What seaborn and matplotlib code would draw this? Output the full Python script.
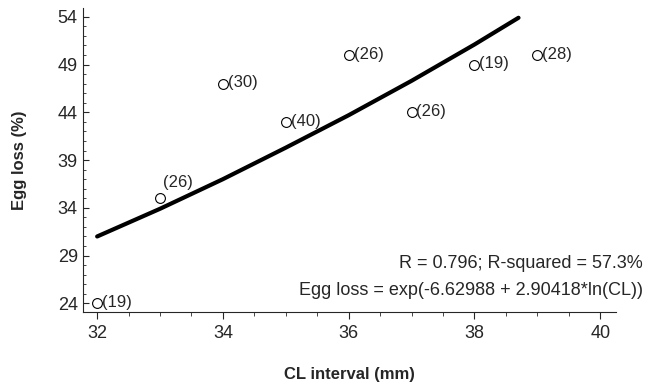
import matplotlib
matplotlib.use("Agg")
import matplotlib.pyplot as plt
from matplotlib.ticker import MultipleLocator
import seaborn as sns
import pandas as pd

# observed points (CL interval, egg loss %, sample size)
cl = [32, 33, 34, 35, 36, 37, 38, 39]
egg_loss = [24, 35, 47, 43, 50, 44, 49, 50]
n_labels = ["(19)", "(26)", "(30)", "(40)", "(26)", "(26)", "(19)", "(28)"]

# fitted curve
fit_cl = [32, 33, 34, 35, 36, 37, 38, 38.7]
fit_loss = [31.0, 33.9, 37.0, 40.3, 43.7, 47.3, 51.1, 53.9]

stats_text = "R = 0.796; R-squared = 57.3%"
eq_text = "Egg loss = exp(-6.62988 + 2.90418*ln(CL))"

sns.set_style("ticks")
plt.rcParams["font.family"] = ["Liberation Sans", "DejaVu Sans"]

pts = pd.DataFrame({"cl": cl, "loss": egg_loss, "n": n_labels})
fit = pd.DataFrame({"cl": fit_cl, "loss": fit_loss})

fig, ax = plt.subplots(figsize=(6.56, 3.87), dpi=100)
fig.subplots_adjust(left=0.127, right=0.939, top=0.98, bottom=0.193)

sns.lineplot(data=fit, x="cl", y="loss", color="black", linewidth=3, ax=ax)
sns.scatterplot(data=pts, x="cl", y="loss", marker="o", s=50,
                facecolor="white", edgecolor="black", linewidth=0.8, ax=ax, zorder=3)

for i, row in pts.iterrows():
    # the label at CL 33 sits above the curve in the original
    off = (2, 11) if i == 1 else (3.5, 0.5)
    ax.annotate(row["n"], (row["cl"], row["loss"]), xytext=off,
                textcoords="offset points", va="center", ha="left", fontsize=12)

ax.set_xlim(31.78, 40.25)
ax.set_ylim(23.06, 54.95)
ax.xaxis.set_major_locator(MultipleLocator(2))
ax.xaxis.set_minor_locator(MultipleLocator(0.5))
ax.set_yticks([24, 29, 34, 39, 44, 49, 54])
ax.yaxis.set_minor_locator(MultipleLocator(1))
ax.tick_params(axis="x", which="major", direction="out", length=5, labelsize=13, pad=4)
ax.tick_params(axis="x", which="minor", direction="out", length=3)
ax.tick_params(axis="y", which="major", direction="in", length=4, labelsize=13, pad=4)
ax.tick_params(axis="y", which="minor", direction="in", length=2.5)
sns.despine(ax=ax)

ax.set_xlabel("CL interval (mm)", fontweight="bold", fontsize=12, labelpad=18)
ax.set_ylabel("Egg loss (%)", fontweight="bold", fontsize=12, labelpad=22)

fig.text(0.98, 0.32, stats_text, ha="right", va="center", fontsize=13)
fig.text(0.98, 0.25, eq_text, ha="right", va="center", fontsize=13)

fig.savefig("out.png", dpi=100)
